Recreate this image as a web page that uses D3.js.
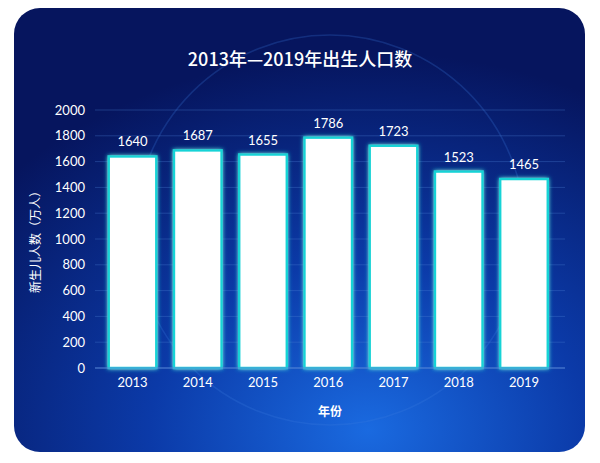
<!DOCTYPE html>
<html><head><meta charset="utf-8">
<script src="https://cdn.jsdelivr.net/npm/d3@7"></script>
<style>body{margin:0;background:#fff}</style></head>
<body><svg id="c" width="600" height="463"></svg>
<script>
const years=["2013","2014","2015","2016","2017","2018","2019"];
const births=[1640,1687,1655,1786,1723,1523,1465];
const yTicks=[0,200,400,600,800,1000,1200,1400,1600,1800,2000];

const svg=d3.select("#c");
const defs=svg.append("defs");
const g1=defs.append("radialGradient").attr("id","bg").attr("cx","0.62").attr("cy","0.95").attr("r","0.85");
g1.append("stop").attr("offset","0").attr("stop-color","#1a6ae0");
g1.append("stop").attr("offset","0.45").attr("stop-color","#0b3aa8");
g1.append("stop").attr("offset","1").attr("stop-color","#06155e");
const gl=defs.append("filter").attr("id","glow").attr("x","-20%").attr("y","-20%").attr("width","140%").attr("height","140%");
gl.append("feGaussianBlur").attr("stdDeviation","2").attr("result","b");
const fm=gl.append("feMerge");fm.append("feMergeNode").attr("in","b");fm.append("feMergeNode").attr("in","SourceGraphic");

svg.append("rect").attr("x",14).attr("y",8).attr("width",571).attr("height",444).attr("rx",26).attr("fill","url(#bg)");
svg.append("circle").attr("cx",330).attr("cy",230).attr("r",195).attr("fill","none").attr("stroke","#3a7be0").attr("stroke-opacity",0.25).attr("stroke-width",1.5);

const x=d3.scaleBand().domain(years).range([99.9,556.6]).paddingInner(0.27).paddingOuter(0.135);
const y=d3.scaleLinear().domain([0,2000]).range([368,110]);

const gy=svg.append("g").attr("transform","translate(95,0)")
  .call(d3.axisLeft(y).tickValues(yTicks).tickFormat(d3.format("d")).tickSize(0).tickPadding(10));
gy.select(".domain").remove();
gy.selectAll("text").attr("fill","#fff").attr("font-size",13).attr("font-family","Lato, sans-serif");
svg.append("g").selectAll("line").data(yTicks.slice(1)).join("line")
  .attr("x1",95).attr("x2",565).attr("y1",d=>y(d)).attr("y2",d=>y(d))
  .attr("stroke","#4a7fd0").attr("stroke-opacity",0.35);

svg.append("g").selectAll("rect").data(births).join("rect")
  .attr("x",(d,i)=>x(years[i])).attr("y",d=>y(d)).attr("width",x.bandwidth()).attr("height",d=>368-y(d))
  .attr("fill","#fff").attr("stroke","#19d3d6").attr("stroke-width",2.5).attr("filter","url(#glow)");

svg.append("line").attr("x1",95).attr("x2",565).attr("y1",368).attr("y2",368).attr("stroke","#5a8ad8");

svg.append("g").selectAll("text").data(births).join("text")
  .attr("x",(d,i)=>x(years[i])+x.bandwidth()/2).attr("y",d=>y(d)-10).attr("text-anchor","middle")
  .attr("fill","#fff").attr("font-size",13).attr("font-family","Lato, sans-serif").text(d=>d);

const gx=svg.append("g").attr("transform","translate(0,368)")
  .call(d3.axisBottom(x).tickSize(0).tickPadding(10));
gx.select(".domain").remove();
gx.selectAll("text").attr("fill","#fff").attr("font-size",13).attr("font-family","Lato, sans-serif");

svg.append("text").attr("x",300).attr("y",66).attr("text-anchor","middle").attr("fill","#fff")
  .attr("font-size",18).attr("font-weight",500).attr("font-family","Noto Sans CJK SC").text("2013年—2019年出生人口数");
svg.append("text").attr("x",330).attr("y",416).attr("text-anchor","middle").attr("fill","#fff")
  .attr("font-size",12).attr("font-weight","bold").attr("font-family","Noto Sans CJK SC").text("年份");
svg.append("text").attr("transform","translate(40,239) rotate(-90)").attr("text-anchor","middle").attr("fill","#fff")
  .attr("font-size",12).attr("font-family","Noto Sans CJK SC").text("新生儿人数（万人）");
</script></body></html>
